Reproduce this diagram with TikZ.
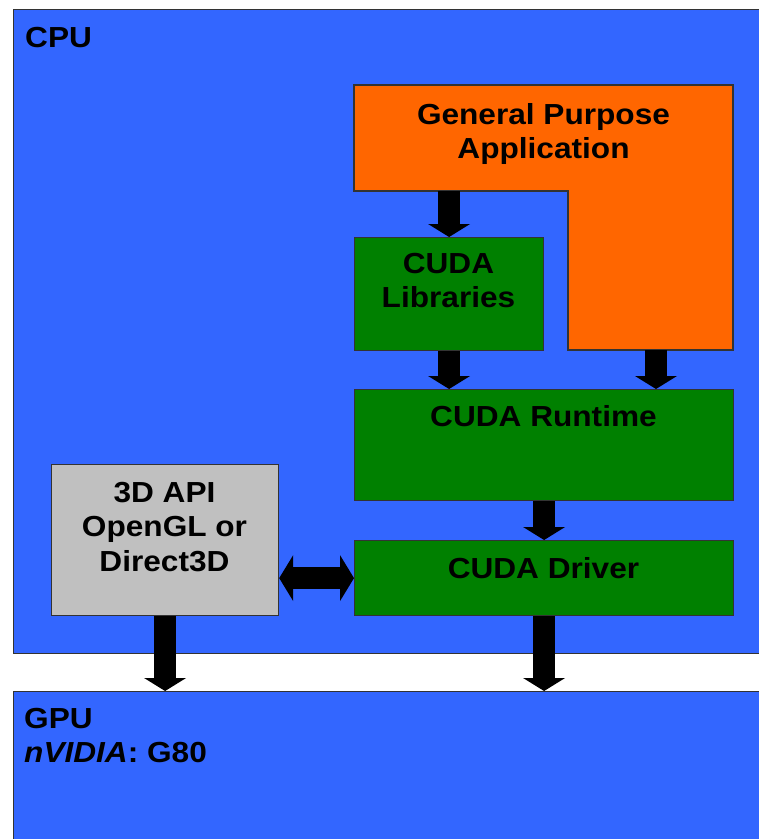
\documentclass[tikz,border=0pt]{standalone}
\usepackage{fontspec}
\setmainfont[FakeStretch=1.09]{Liberation Sans}
\usetikzlibrary{arrows.meta}

\definecolor{cpublue}{HTML}{3366FF}
\definecolor{apporange}{HTML}{FF6600}
\definecolor{cudagreen}{HTML}{008000}
\definecolor{apigray}{HTML}{C0C0C0}

\begin{document}
\begin{tikzpicture}[x=1pt, y=-1pt,
    box/.style={draw=black!80, line width=1.2pt, inner sep=0pt, anchor=north west},
    boxtext/.style={font=\fontsize{29}{34.5}\selectfont\bfseries, align=center, inner sep=0pt},
    fat/.style={line width=22pt, -{Triangle[width=42pt, length=13pt, line width=0pt]}},
    fatboth/.style={line width=22pt, {Triangle[width=46pt, length=14pt, line width=0pt]}-{Triangle[width=46pt, length=14pt, line width=0pt]}}]

    \clip (0,0) rectangle (759,839);
    \fill[white] (0,0) rectangle (759,839);

    % host and device
    \node[box, fill=cpublue, minimum width=800, minimum height=644] (cpu) at (13,9) {};
    \node[box, fill=cpublue, minimum width=800, minimum height=200] (gpu) at (13,691) {};

    % application (L-shaped)
    \coordinate (appNW) at (354,85);
    \coordinate (appNE) at (733,85);
    \coordinate (appSE) at (733,350);
    \coordinate (appSW) at (568,350);
    \coordinate (appIn) at (568,191);
    \coordinate (appW) at (354,191);
    \draw[draw=black!80, line width=1.2pt, fill=apporange]
      (appNW) -- (appNE) -- (appSE) -- (appSW) -- (appIn) -- (appW) -- cycle;

    \node[box, fill=cudagreen, minimum width=189, minimum height=113] (lib) at (354,237) {};
    \node[box, fill=cudagreen, minimum width=379, minimum height=111] (rt) at (354,389) {};
    \node[box, fill=cudagreen, minimum width=379, minimum height=75] (drv) at (354,540) {};
    \node[box, fill=apigray, minimum width=227, minimum height=151] (api) at (51,464) {};

    % texts
    \node[boxtext, anchor=base west] (cputext) at (25,47) {CPU};
    \node[boxtext, anchor=north west, align=left] (gputext) at (24,708)
      {GPU\\\textit{nVIDIA}: G80};
    \node[boxtext, anchor=north] (apptext) at (543.5,103) {General Purpose\\Application};
    \node[boxtext, anchor=north] (libtext) at (448.5,253) {CUDA\\Libraries};
    \node[boxtext, anchor=north] (rttext) at (543.5,405) {CUDA Runtime};
    \node[boxtext, anchor=north] (drvtext) at (543.5,557) {CUDA Driver};
    \node[boxtext, anchor=north] (apitext) at (164.5,482) {3D API\\OpenGL or\\Direct3D};

    % arrows
    \coordinate (appOut) at (656,350);
    \draw[fat] (lib.north |- appW) -- (lib.north);
    \draw[fat] (lib.south) -- (lib.south |- rt.north);
    \draw[fat] (appOut) -- (appOut |- rt.north);
    \draw[fat] (rt.south) -- (drv.north);
    \draw[fatboth] (api.east |- drv.west) -- (drv.west);
    \draw[fat] (api.south) -- (api.south |- gpu.north);
    \draw[fat] (drv.south) -- (drv.south |- gpu.north);

\end{tikzpicture}
\end{document}
